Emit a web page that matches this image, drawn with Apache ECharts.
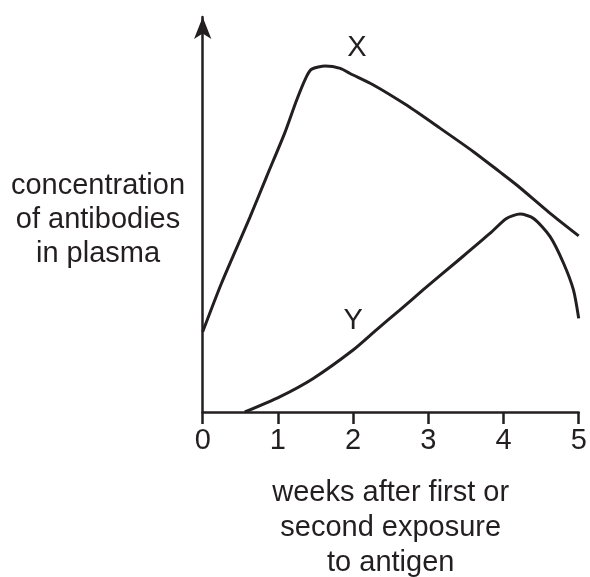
<!DOCTYPE html>
<html>
<head>
<meta charset="utf-8">
<script src="https://cdn.jsdelivr.net/npm/echarts@6/dist/echarts.min.js"></script>
<style>
html,body{margin:0;padding:0;background:#fff;}
#chart{width:590px;height:577px;}
</style>
</head>
<body>
<div id="chart"></div>
<script>
// x ticks (weeks)
var xTicks = [0, 1, 2, 3, 4, 5];
// curve X: [weeks, relative concentration]
var curveX = [
  [0.00, 20.3], [0.25, 32.6], [0.63, 49.4], [0.85, 59.6], [1.09, 70.6],
  [1.25, 79.0], [1.38, 84.9], [1.45, 86.8], [1.63, 87.6], [1.83, 87.0],
  [1.96, 85.7], [2.27, 82.8], [2.71, 77.7], [3.16, 71.8], [3.60, 65.9],
  [3.95, 60.8], [4.18, 57.4], [4.62, 50.3], [5.00, 44.6]
];
// curve Y
var curveY = [
  [0.56, 0.0], [1.03, 3.9], [1.47, 8.5], [2.00, 15.7], [2.31, 20.8],
  [2.62, 25.8], [2.93, 30.9], [3.38, 38.1], [3.82, 45.2], [4.04, 49.0],
  [4.22, 50.1], [4.40, 49.0], [4.62, 44.4], [4.80, 37.6], [4.93, 30.9],
  [5.00, 23.7]
];
var curveNames = ['X', 'Y'];
var labelPos = [[2.05, 92.1], [2.00, 23.0]];
var xAxisTitle = 'weeks after first or\nsecond exposure\nto antigen';
var yAxisTitle = 'concentration\nof antibodies\nin plasma';

var ink = '#231f20';
var font = '"Liberation Sans", Arial, Helvetica, sans-serif';

var chart = echarts.init(document.getElementById('chart'), null, {renderer: 'canvas'});
function mkSeries(name, data, pos) {
  return {
    name: name,
    type: 'line',
    data: data,
    smooth: 0.25,
    showSymbol: false,
    symbol: 'none',
    lineStyle: {color: ink, width: 3},
    animation: false,
    markPoint: {
      symbol: 'circle',
      symbolSize: 0,
      data: [{coord: pos, value: name}],
      label: {show: true, position: 'inside', formatter: name, color: ink, fontSize: 29, fontFamily: font},
      animation: false
    }
  };
}
chart.setOption({
  animation: false,
  backgroundColor: '#fff',
  grid: {left: 202.7, right: 11.3, top: 17, bottom: 165, containLabel: false, outerBoundsMode: 'none'},
  xAxis: {
    type: 'value',
    min: 0, max: 5, interval: 1,
    axisLine: {show: true, lineStyle: {color: ink, width: 2.5}},
    axisTick: {show: true, inside: false, length: 12, lineStyle: {color: ink, width: 2.5}},
    axisLabel: {show: true, margin: 14, color: ink, fontSize: 29, fontFamily: font,
      formatter: function (v) { return xTicks.indexOf(v) >= 0 ? String(v) : ''; }},
    splitLine: {show: false},
    name: xAxisTitle,
    nameLocation: 'middle',
    nameGap: 63,
    nameTextStyle: {color: ink, fontSize: 29, fontFamily: font, lineHeight: 35, align: 'center'}
  },
  yAxis: {
    type: 'value',
    min: 0, max: 100,
    axisLine: {show: true, symbol: ['none', 'arrow'], symbolSize: [13, 22], symbolOffset: [0, 0],
      lineStyle: {color: ink, width: 2.5}},
    axisTick: {show: false},
    axisLabel: {show: false},
    splitLine: {show: false}
  },
  graphic: [{
    type: 'text',
    x: 98, y: 220,
    style: {text: yAxisTitle, fill: ink, fontSize: 29, fontFamily: font, lineHeight: 34, align: 'center', verticalAlign: 'middle'}
  }],
  series: [mkSeries(curveNames[0], curveX, labelPos[0]), mkSeries(curveNames[1], curveY, labelPos[1])]
});
</script>
</body>
</html>
